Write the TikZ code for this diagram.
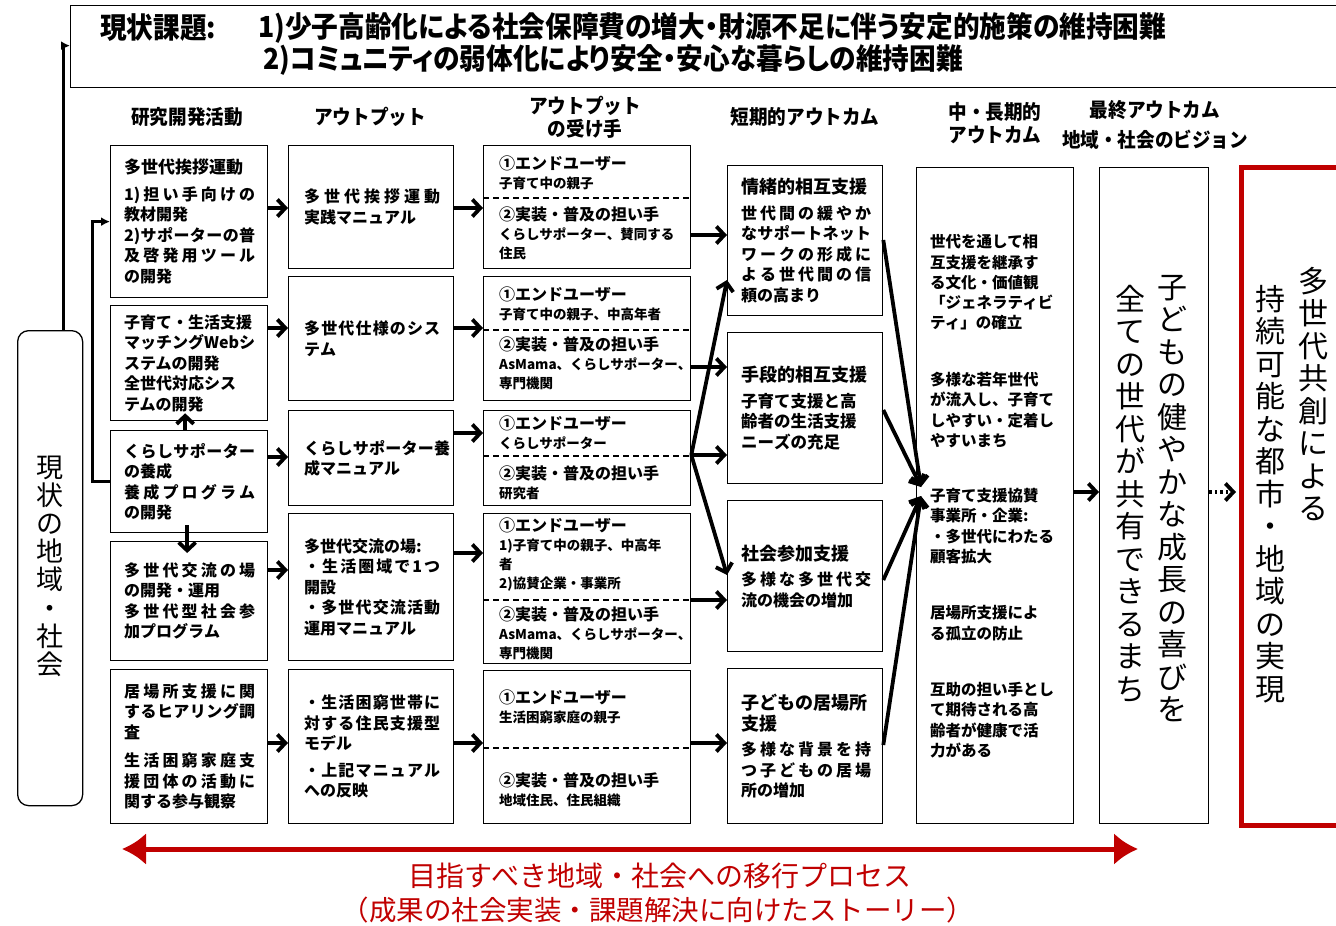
\documentclass[tikz,border=0pt]{standalone}
\usepackage{fontspec}
\setmainfont{Noto Sans CJK JP}
\newfontfamily\jpc[FakeStretch=0.92,RawFeature={+palt}]{Noto Sans CJK JP}
\newfontfamily\jph[FakeStretch=0.93]{Noto Sans CJK JP}
\usetikzlibrary{arrows.meta,calc}
\definecolor{dred}{RGB}{192,0,0}
\XeTeXlinebreaklocale "ja"
\XeTeXlinebreakskip=0pt plus 6pt
\newcommand\smtx[1]{{\fontsize{13.5}{18}\selectfont #1}}
\newcommand\ttl[1]{{\fontsize{18}{22}\selectfont #1}}
\begin{document}
\begin{tikzpicture}[x=1pt,y=-1pt,
  bx/.style={draw, line width=1.3pt, inner sep=0pt, anchor=north west},
  jx/.style={align=justify, inner sep=0pt, anchor=west, text width=#1,
     execute at begin node={\parindent=0pt},
     font=\bfseries\fontsize{16}{20.5}\selectfont},
  tx/.style={align=left, inner sep=0pt, anchor=west, font=\bfseries\fontsize{16}{20.5}\selectfont},
  rt/.style={align=left, inner sep=0pt, anchor=west, font=\bfseries\fontsize{16}{19}\selectfont},
  mt/.style={align=left, inner sep=0pt, anchor=west, font=\bfseries\fontsize{15.5}{20.3}\selectfont},
  hd/.style={align=center, inner sep=0pt, font=\jph\bfseries\fontsize{20}{23}\selectfont},
  tp/.style={anchor=west, inner sep=0pt, font=\jpc\bfseries\fontsize{29}{32}\selectfont},
  arr/.style={line width=3.8pt, -{Straight Barb[length=8pt,width=17pt]}},
  tarr/.style={line width=3pt, -{Latex[length=9pt,width=9pt]}},
  vt/.style={align=center, inner sep=0pt, anchor=north, font=\fontsize{30}{32.5}\selectfont},
  dsh/.style={line width=1.3pt, dash pattern=on 6pt off 4pt},
]
\useasboundingbox (0,0) rectangle (1336,926);

% ---- top problem box
\node[bx, minimum width=1290pt, minimum height=82pt] (top) at (70,5) {};
\node[tp] (t0) at (100,28) {現状課題:};
\node[tp] (t1) at (258,28) {1)少子高齢化による社会保障費の増大・財源不足に伴う安定的施策の維持困難};
\node[tp] (t2) at (263,60) {2)コミュニティの弱体化により安全・安心な暮らしの維持困難};

% ---- left box
\node[bx, rounded corners=11pt, minimum width=65pt, minimum height=475pt] (L) at (17,330) {};
\node[align=center, inner sep=0pt, font=\fontsize{27}{28.2}\selectfont] (Lt) at ([yshift=2pt]L.center) {現\\状\\の\\地\\域\\・\\社\\会};

% ---- headers
\node[hd] (c1) at (187,117) {研究開発活動};
\node[hd] (c2) at (370,117) {アウトプット};
\node[hd] (c3) at (585,117) {アウトプット\\の受け手};
\node[hd] (c4) at (805,117) {短期的アウトカム};
\node[hd] (c5) at (995,123) {中・長期的\\アウトカム};
\node[hd] (c6) at (1155,110) {最終アウトカム};
\node[hd] (c7) at (1155,140) {地域・社会のビジョン};

% ---- column 1
\node[bx, minimum width=157pt, minimum height=152pt] (B1) at (110,145) {};
\node[bx, minimum width=157pt, minimum height=115pt] (B2) at (110,305) {};
\node[bx, minimum width=157pt, minimum height=102pt] (B3) at (110,430) {};
\node[bx, minimum width=157pt, minimum height=119pt] (B4) at (110,541) {};
\node[bx, minimum width=157pt, minimum height=154pt] (B5) at (110,669) {};
\node[jx=131pt] (B1t) at ([xshift=14pt]B1.west) {{\fontsize{17}{21}\selectfont 多世代挨拶運動}\\[6pt]1)担い手向けの\linebreak 教材開発\\2)サポーターの普\linebreak 及啓発用ツール\linebreak の開発};
\node[tx] (B2t) at ([xshift=14pt]B2.west) {子育て・生活支援\\マッチングWebシ\\ステムの開発\\\makebox[131pt][s]{全世代対応シス}\\テムの開発};
\node[jx=131pt] (B3t) at ([xshift=14pt]B3.west) {くらしサポーター\linebreak の養成\\養成プログラム\linebreak の開発};
\node[jx=131pt] (B4t) at ([xshift=14pt]B4.west) {多世代交流の場\linebreak の開発・運用\\多世代型社会参\linebreak 加プログラム};
\node[jx=131pt] (B5t) at ([xshift=14pt]B5.west) {居場所支援に関\linebreak するヒアリング調\linebreak 査\\[8pt]生活困窮家庭支\linebreak 援団体の活動に\linebreak 関する参与観察};

% ---- column 2
\node[bx, minimum width=165pt, minimum height=123pt] (O1) at (288,145) {};
\node[bx, minimum width=165pt, minimum height=124pt] (O2) at (288,276) {};
\node[bx, minimum width=165pt, minimum height=95pt] (O3) at (288,410) {};
\node[bx, minimum width=165pt, minimum height=147pt] (O4) at (288,513) {};
\node[bx, minimum width=165pt, minimum height=154pt] (O5) at (288,669) {};
\node[jx=136pt] (O1t) at ([xshift=16pt]O1.west) {多世代挨拶運動\linebreak 実践マニュアル};
\node[jx=136pt] (O2t) at ([xshift=16pt]O2.west) {多世代仕様のシス\linebreak テム};
\node[jx=146pt] (O3t) at ([xshift=16pt]O3.west) {くらしサポーター養\linebreak 成マニュアル};
\node[jx=136pt] (O4t) at ([xshift=16pt]O4.west) {多世代交流の場:\\・生活圏域で1つ\linebreak 開設\\・多世代交流活動\linebreak 運用マニュアル};
\node[jx=136pt] (O5t) at ([xshift=16pt]O5.west) {・生活困窮世帯に\linebreak 対する住民支援型\linebreak モデル\\[6pt]・上記マニュアル\linebreak への反映};

% ---- column 3
\node[bx, minimum width=207pt, minimum height=123pt] (R1) at (483,145) {};
\node[bx, minimum width=207pt, minimum height=124pt] (R2) at (483,276) {};
\node[bx, minimum width=207pt, minimum height=95pt] (R3) at (483,410) {};
\node[bx, minimum width=207pt, minimum height=150pt] (R4) at (483,513) {};
\node[bx, minimum width=207pt, minimum height=153pt] (R5) at (483,670) {};
\draw[dsh] (R1.west |- 0,198) -- (R1.east |- 0,198);
\draw[dsh] (R2.west |- 0,330) -- (R2.east |- 0,330);
\draw[dsh] (R3.west |- 0,456) -- (R3.east |- 0,456);
\draw[dsh] (R4.west |- 0,600) -- (R4.east |- 0,600);
\draw[dsh] (R5.west |- 0,748) -- (R5.east |- 0,748);
\node[rt] (R1a) at (499,173) {①エンドユーザー\\\smtx{子育て中の親子}};
\node[rt] (R1b) at (499,233) {②実装・普及の担い手\\\smtx{くらしサポーター、賛同する}\\\smtx{住民}};
\node[rt] (R2a) at (499,304) {①エンドユーザー\\\smtx{子育て中の親子、中高年者}};
\node[rt] (R2b) at (499,363) {②実装・普及の担い手\\\smtx{AsMama、くらしサポーター、}\\\smtx{専門機関}};
\node[rt] (R3a) at (499,433) {①エンドユーザー\\\smtx{くらしサポーター}};
\node[rt] (R3b) at (499,483) {②実装・普及の担い手\\\smtx{研究者}};
\node[rt] (R4a) at (499,555) {①エンドユーザー\\\smtx{1)子育て中の親子、中高年}\\\smtx{者}\\\smtx{2)協賛企業・事業所}};
\node[rt] (R4b) at (499,633) {②実装・普及の担い手\\\smtx{AsMama、くらしサポーター、}\\\smtx{専門機関}};
\node[rt] (R5a) at (499,707) {①エンドユーザー\\\smtx{生活困窮家庭の親子}};
\node[rt] (R5b) at (499,790) {②実装・普及の担い手\\\smtx{地域住民、住民組織}};

% ---- column 4
\node[bx, minimum width=155pt, minimum height=150pt] (S1) at (727,165) {};
\node[bx, minimum width=155pt, minimum height=151pt] (S2) at (727,332) {};
\node[bx, minimum width=155pt, minimum height=151pt] (S3) at (727,500) {};
\node[bx, minimum width=155pt, minimum height=155pt] (S4) at (727,668) {};
\node[jx=130pt] (S1t) at ([xshift=14pt]S1.west) {\ttl{情緒的相互支援}\\[5pt]世代間の緩やか\linebreak なサポートネット\linebreak ワークの形成に\linebreak よる世代間の信\linebreak 頼の高まり};
\node[jx=130pt] (S2t) at ([xshift=14pt]S2.west) {\ttl{手段的相互支援}\\[5pt]{\fontsize{16.5}{20.5}\selectfont 子育て支援と高\\齢者の生活支援\\ニーズの充足}};
\node[jx=130pt] (S3t) at ([xshift=14pt]S3.west) {\ttl{社会参加支援}\\[5pt]多様な多世代交\linebreak 流の機会の増加};
\node[jx=130pt] (S4t) at ([xshift=14pt]S4.west) {\ttl{子どもの居場所}\\\ttl{支援}\\[5pt]多様な背景を持\linebreak つ子どもの居場\linebreak 所の増加};

% ---- column 5
\node[bx, minimum width=157pt, minimum height=656pt] (M) at (916,167) {};
\node[mt] (m1) at (930,282.5) {世代を通して相\\互支援を継承す\\る文化・価値観\\「ジェネラティビ\\ティ」の確立};
\node[mt] (m2) at (930,410) {多様な若年世代\\が流入し、子育て\\しやすい・定着し\\やすいまち};
\node[mt] (m3) at (930,526) {子育て支援協賛\\事業所・企業:\\・多世代にわたる\\顧客拡大};
\node[mt] (m4) at (930,623) {居場所支援によ\\る孤立の防止};
\node[mt] (m5) at (930,720) {互助の担い手とし\\て期待される高\\齢者が健康で活\\力がある};

% ---- column 6 / 7
\node[bx, minimum width=109pt, minimum height=656pt] (F) at (1099,167) {};
\node[vt] (F1) at (1172,275) {子\\ど\\も\\の\\健\\や\\か\\な\\成\\長\\の\\喜\\び\\を};
\node[vt] (F2) at (1130,285) {全\\て\\の\\世\\代\\が\\共\\有\\で\\き\\る\\ま\\ち};
\node[bx, draw=dred, line width=5pt, minimum width=120pt, minimum height=658pt] (G) at (1239,165) {};
\node[vt] (G1) at (1313,267) {多\\世\\代\\共\\創\\に\\よ\\る};
\node[vt] (G2) at (1270,285) {持\\続\\可\\能\\な\\都\\市\\・\\地\\域\\の\\実\\現};

% ---- connectors on the left
\draw[tarr] ([xshift=13pt]L.north) |- ([yshift=1pt]top.west);
\draw[tarr] (B3.west) -- ++(-18,0) |- (B1.west);
\draw[arr] ([xshift=-4pt]B3.north) -- ([xshift=-4pt,yshift=8pt]B2.south);
\draw[arr] ([xshift=-2pt,yshift=8pt]B3.south) -- ([xshift=-2pt,yshift=-12pt]B4.north);

% ---- column 1 -> 2
\draw[arr] (B1.east |- 0,208) -- (O1.west |- 0,208);
\draw[arr] (B2.east |- 0,328) -- (O2.west |- 0,328);
\draw[arr] (B3.east |- 0,457) -- (O3.west |- 0,457);
\draw[arr] (B4.east |- 0,570) -- (O4.west |- 0,570);
\draw[arr] (B5.east |- 0,743) -- (O5.west |- 0,743);

% ---- column 2 -> 3
\draw[arr] (O1.east |- 0,208) -- (R1.west |- 0,208);
\draw[arr] (O2.east |- 0,328) -- (R2.west |- 0,328);
\draw[arr] (O3.east |- 0,433) -- (R3.west |- 0,433);
\draw[arr] (O4.east |- 0,553) -- (R4.west |- 0,553);
\draw[arr] (O5.east |- 0,743) -- (R5.west |- 0,743);

% ---- column 3 -> 4
\draw[arr] (R1.east |- 0,235) -- (S1.west |- 0,235);
\draw[arr] (R2.east |- 0,367) -- (S2.west |- 0,367);
\draw[arr] (R3.east |- 0,455) -- (S2.west |- 0,455);
\draw[arr] (R4.east |- 0,600) -- (S3.west |- 0,600);
\draw[arr] (R5.east |- 0,743) -- (S4.west |- 0,743);
\draw[arr] (R3.east |- 0,455) -- (S1.west |- 0,280);
\draw[arr] (R3.east |- 0,455) -- (S3.west |- 0,575);

% ---- column 4 -> 5
\coordinate (cv1) at (921,487);
\coordinate (cv2) at (921,496);
\draw[arr] (S1.east |- 0,240) -- (cv1);
\draw[arr] (S2.east |- 0,410) -- (cv1);
\draw[arr] (S3.east |- 0,580) -- (cv2);
\draw[arr] (S4.east |- 0,745) -- (cv2);

% ---- column 5 -> 6 -> 7
\draw[arr] (M.east |- 0,492) -- (F.west |- 0,492);
\draw[arr, dash pattern=on 2.5pt off 3pt] (F.east |- 0,492) -- ([xshift=-3pt]G.west |- 0,492);

% ---- bottom process arrow
\coordinate (ra) at (122,849);
\coordinate (rb) at (1138,849);
\draw[dred, line width=5pt, {Latex[length=24pt,width=32pt]}-{Latex[length=24pt,width=32pt]}] (ra) -- (rb);
\node[inner sep=0pt, text=dred, font=\fontsize{28}{33}\selectfont] (p1) at (660,876) {目指すべき地域・社会への移行プロセス};
\node[inner sep=0pt, text=dred, font=\fontsize{27.5}{33}\selectfont] (p2) at (658,910) {（成果の社会実装・課題解決に向けたストーリー）};
\end{tikzpicture}
\end{document}
